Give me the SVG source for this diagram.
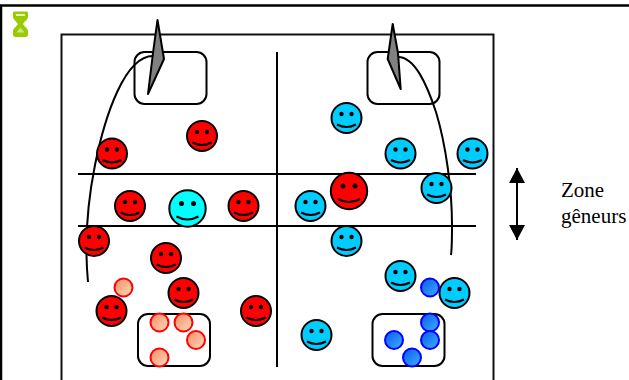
<svg xmlns="http://www.w3.org/2000/svg" xmlns:xlink="http://www.w3.org/1999/xlink" width="629" height="380" viewBox="0 0 629 380">
<style>
.ln{fill:none;stroke:#000;stroke-width:2}
.zone{fill:#fff;stroke:#000;stroke-width:2}
.ptr{fill:#808080;stroke:#000;stroke-width:2;stroke-linejoin:round}
.face{stroke:#000;stroke-width:2}
.red{fill:#f00}.blue{fill:#0cf}.cyan{fill:#0ff}
.sr{fill:url(#gr);stroke:#f00;stroke-width:2}
.sb{fill:url(#gb);stroke:#00f;stroke-width:2}
text{font-family:"Liberation Serif","Times New Roman",serif;font-size:21px;fill:#000}
</style>
<defs>
<linearGradient id="gr" x1="0" y1="0" x2="1" y2="1"><stop offset="0" stop-color="#f58a60"/><stop offset="1" stop-color="#ffdcc0"/></linearGradient>
<linearGradient id="gb" x1="0" y1="0" x2="1" y2="1"><stop offset="0" stop-color="#0a58f0"/><stop offset="1" stop-color="#3cb0ff"/></linearGradient>
<g id="f"><circle class="face" r="15" fill="inherit"/><circle cx="-5" cy="-4" r="2.200" fill="#000"/><circle cx="5" cy="-4" r="2.200" fill="#000"/><path d="M-9.500,6.500Q0,11.500 9.500,6.500" fill="none" stroke="#000" stroke-width="2"/></g>
<g id="F"><circle class="face" r="18.200" fill="inherit"/><circle cx="-6" cy="-5" r="2.500" fill="#000"/><circle cx="6" cy="-5" r="2.500" fill="#000"/><path d="M-11,8Q0,14 11,8" fill="none" stroke="#000" stroke-width="2"/></g>
<marker id="ah" markerUnits="userSpaceOnUse" markerWidth="16" markerHeight="16" refX="15" refY="8" orient="auto-start-reverse"><path d="M0,0L15,8L0,16z" fill="#000"/></marker>
</defs>
<rect width="629" height="380" fill="#fff"/>
<path d="M0,5.500H629" fill="none" stroke="#000" stroke-width="2.500"/><path d="M1,5V380" fill="none" stroke="#000" stroke-width="2.500"/>
<g id="hourglass"><path d="M14,11.500h13a1.500,1.500 0 0 1 1,1.500v4c0,2.500-4,5-5,7c1,2 5,4.500 5,7v3.500c0,1.500-1,2.500-2.500,2.500h-10c-1.500,0-2.500-1-2.500-2.500v-3.500c0-2.500 4-5 5-7c-1-2-5-4.500-5-7v-4a1.500,1.500 0 0 1 1-1.500z" fill="#9c0"/><path d="M16,15h9" stroke="#fff" stroke-width="1.500"/><path d="M20.500,27.500l4,5h-8z" fill="#cfe680"/></g>
<rect id="frame" x="61.500" y="34.500" width="432" height="360" fill="#fff" stroke="#111" stroke-width="2"/>
<g id="zone-top-left"><rect class="zone" x="134.500" y="52" width="72" height="52" rx="10"/></g>
<g id="zone-top-right"><rect class="zone" x="367.500" y="52" width="72" height="52" rx="10"/></g>
<g id="zone-bottom-left"><rect class="zone" x="138" y="314" width="72" height="52" rx="10"/></g>
<g id="zone-bottom-right"><rect class="zone" x="372.500" y="314" width="72" height="52" rx="10"/></g>
<g id="connectors">
<path class="ln" d="M277,52V367"/>
<path class="ln" d="M78,174H476M78,226H476"/>
<path class="ln" d="M153,56C125,56 105,115 95,165C88,200 84,240 88,282"/>
<path class="ln" d="M398,57C415,57 427,85 436,112C446,145 452,190 452,225C452,240 452,248 451,255"/>
<path class="ln" d="M517,168V240" marker-start="url(#ah)" marker-end="url(#ah)"/>
</g>
<g id="ptr-left"><polygon class="ptr" points="157.500,20 164,59 148,94 153,53"/></g>
<g id="ptr-right"><polygon class="ptr" points="392.700,24 398,53 400.700,89 387.700,59"/></g>
<g id="red-players" class="red">
<use id="r1" xlink:href="#f" x="112" y="153.500"/><use id="r2" xlink:href="#f" x="202" y="136"/><use id="r3" xlink:href="#f" x="130" y="206"/><use id="r4" xlink:href="#f" x="243.500" y="206"/><use id="r5" xlink:href="#f" x="94" y="241"/><use id="r6" xlink:href="#f" x="166" y="258"/><use id="r7" xlink:href="#f" x="183.500" y="293"/><use id="r8" xlink:href="#f" x="111.500" y="311"/><use id="r9" xlink:href="#f" x="256" y="311"/><use id="r10" xlink:href="#F" x="349" y="191"/>
</g>
<g id="ref" class="cyan"><use xlink:href="#F" x="187.500" y="208.500"/></g>
<g id="blue-players" class="blue">
<use id="b1" xlink:href="#f" x="346.500" y="118"/><use id="b2" xlink:href="#f" x="400.500" y="153.500"/><use id="b3" xlink:href="#f" x="472.500" y="153.500"/><use id="b4" xlink:href="#f" x="436.500" y="188"/><use id="b5" xlink:href="#f" x="310.500" y="206"/><use id="b6" xlink:href="#f" x="346.500" y="241"/><use id="b7" xlink:href="#f" x="400.500" y="276"/><use id="b8" xlink:href="#f" x="454.500" y="293"/><use id="b9" xlink:href="#f" x="316.500" y="335"/>
</g>
<g id="red-balls">
<circle class="sr" cx="123.500" cy="287.500" r="9"/><circle class="sr" cx="159.500" cy="322.500" r="9"/><circle class="sr" cx="183.500" cy="322.500" r="9"/><circle class="sr" cx="196" cy="340" r="9"/><circle class="sr" cx="159.500" cy="357.500" r="9"/>
</g>
<g id="blue-balls">
<circle class="sb" cx="430" cy="287.500" r="9"/><circle class="sb" cx="430" cy="322.500" r="9"/><circle class="sb" cx="430" cy="340" r="9"/><circle class="sb" cx="394" cy="340" r="9"/><circle class="sb" cx="412" cy="357.500" r="9"/>
</g>
<g id="label"><text x="561" y="197">Zone</text><text x="561" y="223">gêneurs</text></g>
</svg>
